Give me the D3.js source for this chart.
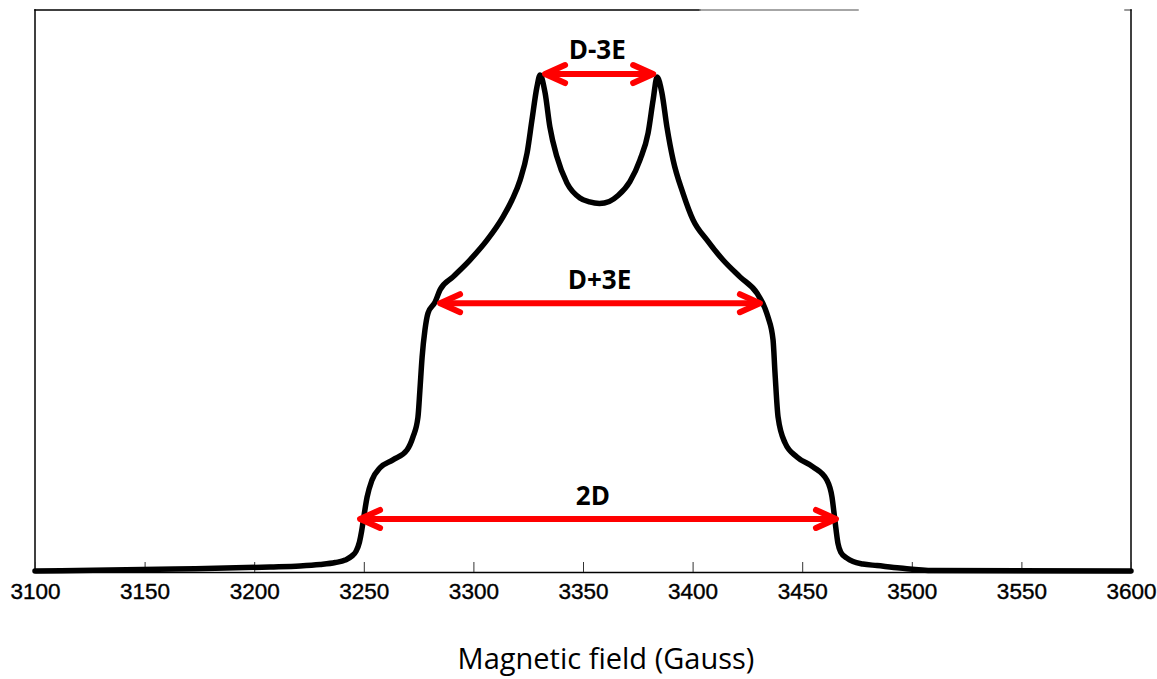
<!DOCTYPE html>
<html>
<head>
<meta charset="utf-8">
<script src="https://cdn.jsdelivr.net/npm/d3@7"></script>
<style>
  html, body { margin: 0; padding: 0; background: #fff; }
  svg { display: block; }
</style>
</head>
<body>
<svg id="chart" width="1157" height="679"></svg>
<script>
// ---- data ----
const fieldG = [3100, 3163.9, 3207.2, 3220.9, 3230.0, 3237.0, 3241.5, 3244.5, 3246.5, 3248.0, 3249.0, 3249.8,
  3251.5, 3253.7, 3257.4, 3263.3, 3269.7, 3272.4, 3274.7, 3275.6, 3276.6, 3277.9, 3279.3, 3282.5,
  3284.8, 3290.7, 3298.4, 3306.2, 3313.5, 3317.6, 3321.3, 3324.5, 3326.7, 3329.0, 3330.4,
  3332.7, 3334.9, 3338.1, 3342.7, 3348.6, 3353.0, 3357.5, 3362.0, 3366.0, 3371.4, 3376.0, 3379.7, 3382.0,
  3383.8, 3386.0, 3388.3, 3391.1, 3395.6, 3400.2, 3406.6, 3413.9, 3421.6, 3429.4, 3433.0, 3434.4,
  3436.7, 3437.6, 3439.0, 3442.2, 3447.6, 3454.9, 3461.3, 3463.6, 3464.9, 3466.3, 3467.6, 3470.4,
  3473.2, 3477.7, 3484.1, 3494.6, 3509.7, 3600];
const intensity = [0, 0.004, 0.008, 0.010, 0.013, 0.017, 0.022, 0.030, 0.040, 0.058, 0.080, 0.103,
  0.149, 0.183, 0.208, 0.224, 0.244, 0.270, 0.310, 0.365, 0.431, 0.486, 0.520, 0.542,
  0.567, 0.593, 0.627, 0.667, 0.714, 0.748, 0.788, 0.843, 0.909, 0.976, 1.000,
  0.964, 0.895, 0.835, 0.782, 0.752, 0.744, 0.741, 0.745, 0.757, 0.785, 0.829, 0.883, 0.950,
  0.996, 0.964, 0.895, 0.829, 0.762, 0.708, 0.667, 0.627, 0.593, 0.560, 0.530, 0.512,
  0.466, 0.399, 0.310, 0.258, 0.230, 0.210, 0.183, 0.149, 0.103, 0.056, 0.038, 0.026,
  0.019, 0.014, 0.011, 0.006, 0.001, 0];

const xTicks = [3100, 3150, 3200, 3250, 3300, 3350, 3400, 3450, 3500, 3550, 3600];
const xTitle = "Magnetic field (Gauss)";

// annotations: label, start field, end field, level
const annLabels = ["D-3E", "D+3E", "2D"];
const annStart = [3332.7, 3284.8, 3248.3];
const annEnd = [3382.0, 3430.7, 3465.4];
const annLevel = [1.002, 0.540, 0.105];
const annLabelX = [3356.5, 3357.5, 3354.5];
const annLabelLevel = [1.033, 0.569, 0.133];

// ---- layout ----
const svg = d3.select("#chart");
const padL = 35, padR = 1131, padT = 10, padB = 572;

const x = d3.scaleLinear().domain([3100, 3600]).range([padL, padR]);
const y = d3.scaleLinear().domain([0, 1]).range([571, 75]);

// frame
const frame = svg.append("g").attr("fill", "none").attr("stroke-linecap", "square");
frame.append("line").attr("x1", padL).attr("x2", padL).attr("y1", padT).attr("y2", padB)
  .attr("stroke", "#000").attr("stroke-width", 1.5);
frame.append("line").attr("x1", padL).attr("x2", 700).attr("y1", padT).attr("y2", padT)
  .attr("stroke", "#000").attr("stroke-width", 1.5);
frame.append("line").attr("x1", 700).attr("x2", 858).attr("y1", padT).attr("y2", padT)
  .attr("stroke", "#888").attr("stroke-width", 1.5);
frame.append("line").attr("x1", 1125).attr("x2", padR).attr("y1", padT).attr("y2", padT)
  .attr("stroke", "#777").attr("stroke-width", 1.5);
frame.append("line").attr("x1", padR).attr("x2", padR).attr("y1", padT).attr("y2", padB)
  .attr("stroke", "#000").attr("stroke-width", 1.5);

// x axis
const xAxis = d3.axisBottom(x).tickValues(xTicks).tickSizeInner(-10).tickSizeOuter(0)
  .tickPadding(11).tickFormat(d3.format("d"));
const gx = svg.append("g").attr("transform", `translate(0,${padB})`).call(xAxis);
gx.select(".domain").attr("stroke", "#000").attr("stroke-width", 1.5);
gx.selectAll(".tick line").attr("stroke", "#333").attr("stroke-width", 1);
gx.selectAll(".tick text")
  .attr("font-family", "Liberation Sans, Arial, sans-serif")
  .attr("font-size", 22.5).attr("fill", "#000")
  .attr("stroke", "#000").attr("stroke-width", 0.4);

// axis title
svg.append("text").attr("x", 606).attr("y", 669).attr("text-anchor", "middle")
  .attr("font-family", "Open Sans, sans-serif").attr("font-size", 29).attr("fill", "#000")
  .text(xTitle);

// spectrum
const pts = fieldG.map((g, i) => [g, intensity[i]]);
const line = d3.line().x(d => x(d[0])).y(d => y(d[1])).curve(d3.curveMonotoneX);
svg.append("path").datum(pts).attr("d", line)
  .attr("fill", "none").attr("stroke", "#000").attr("stroke-width", 5.5)
  .attr("stroke-linejoin", "round").attr("stroke-linecap", "round");

// annotations
const ann = svg.append("g");
annLabels.forEach((lab, i) => {
  const x1 = x(annStart[i]), x2 = x(annEnd[i]), yy = y(annLevel[i]);
  const g = ann.append("g").attr("stroke", "#ff0000").attr("fill", "none")
    .attr("stroke-linecap", "round").attr("stroke-linejoin", "round");
  g.append("line").attr("x1", x1 + 2).attr("x2", x2 - 2).attr("y1", yy).attr("y2", yy)
    .attr("stroke-width", 6);
  g.append("path").attr("d", `M${x1 + 20},${yy - 9} L${x1},${yy} L${x1 + 20},${yy + 9}`)
    .attr("stroke-width", 6);
  g.append("path").attr("d", `M${x2 - 20},${yy - 9} L${x2},${yy} L${x2 - 20},${yy + 9}`)
    .attr("stroke-width", 6);
  ann.append("text").attr("x", x(annLabelX[i])).attr("y", y(annLabelLevel[i]))
    .attr("text-anchor", "middle")
    .attr("font-family", "Open Sans, sans-serif").attr("font-weight", "bold")
    .attr("font-size", 26).attr("fill", "#000").text(lab);
});
</script>
</body>
</html>
